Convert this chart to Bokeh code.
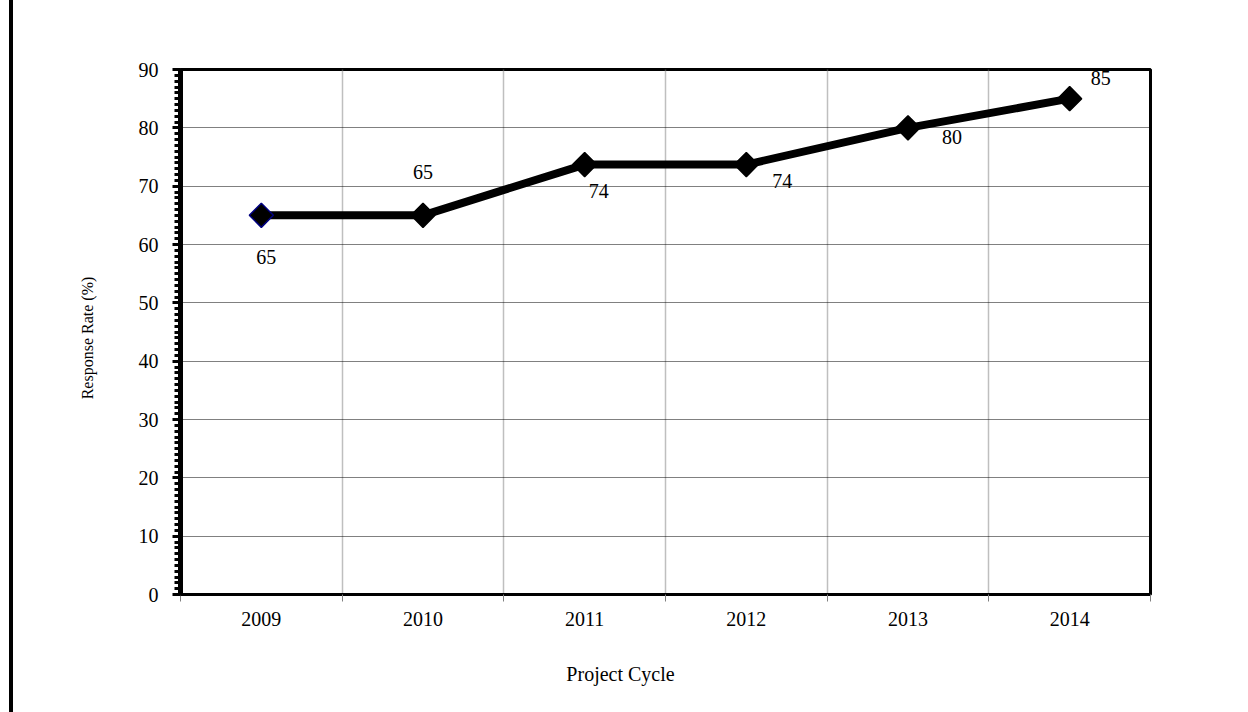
import math
from bokeh.plotting import figure
from bokeh.models import FixedTicker, ColumnDataSource
from bokeh.core.properties import value
from bokeh.embed import file_html
from bokeh.resources import INLINE

# ---- data ----
categories = ["2009", "2010", "2011", "2012", "2013", "2014"]
response_rate = [65, 65, 73.7, 73.7, 80, 85]
value_labels = ["65", "65", "74", "74", "80", "85"]
y_ticks = [0, 10, 20, 30, 40, 50, 60, 70, 80, 90]
x_title = "Project Cycle"
y_title = "Response Rate (%)"

# label placement offsets (screen px), layout only
label_dx = [5, 0, 14, 36, 44, 31]
label_dy = [42, -43, 26, 16, 9, -21]

FONT = value("Liberation Serif")
n = len(categories)
xs = [i + 0.5 for i in range(n)]

LEFT_GAP = 9      # white space before the page's left rule
RULE = 4          # width of the left rule
OFF = LEFT_GAP + RULE
W, H = 1248 - OFF, 712
p = figure(width=W, height=H, x_range=(0, n), y_range=(0, 90),
           output_backend="svg", toolbar_location=None,
           min_border_left=180 - OFF, min_border_right=W - (1150 - OFF),
           min_border_top=69, min_border_bottom=118)
p.styles = {"margin-left": f"{LEFT_GAP}px", "border-left": f"{RULE}px solid black"}
p.background_fill_color = "white"
p.border_fill_color = "white"
p.outline_line_color = "black"
p.outline_line_width = 3

# x axis
p.xaxis.ticker = FixedTicker(ticks=xs, minor_ticks=list(range(n + 1)))
p.xaxis.major_label_overrides = {xv: c for xv, c in zip(xs, categories)}
p.xaxis.major_tick_line_color = None
p.xaxis.major_tick_out = 0
p.xaxis.major_tick_in = 0
p.xaxis.minor_tick_out = 7
p.xaxis.minor_tick_in = 0
p.xaxis.minor_tick_line_color = "#808080"
p.xaxis.minor_tick_line_width = 1
p.xaxis.axis_line_color = "black"
p.xaxis.axis_line_width = 3
p.xaxis.major_label_standoff = 10
p.xaxis.major_label_text_font = "Liberation Serif"
p.xaxis.major_label_text_font_size = "20px"
p.xaxis.major_label_text_color = "black"
p.xaxis.axis_label = x_title + "\u00a0" * 18
p.xaxis.axis_label_standoff = 34
p.xaxis.axis_label_text_font = "Liberation Serif"
p.xaxis.axis_label_text_font_size = "20px"
p.xaxis.axis_label_text_font_style = "normal"
p.xaxis.axis_label_text_color = "black"

# y axis
p.yaxis.ticker = FixedTicker(ticks=y_ticks, minor_ticks=list(range(0, 91)))
p.yaxis.major_tick_out = 8
p.yaxis.major_tick_in = 0
p.yaxis.major_tick_line_width = 3
p.yaxis.major_tick_line_color = "black"
p.yaxis.minor_tick_out = 6
p.yaxis.minor_tick_in = 0
p.yaxis.minor_tick_line_width = 3
p.yaxis.minor_tick_line_color = "black"
p.yaxis.axis_line_color = "black"
p.yaxis.axis_line_width = 5
p.yaxis.major_label_standoff = 14
p.yaxis.major_label_text_font = "Liberation Serif"
p.yaxis.major_label_text_font_size = "20px"
p.yaxis.major_label_text_color = "black"
p.yaxis.axis_label = y_title + "\u00a0" * 3
p.yaxis.axis_label_standoff = 40
p.yaxis.axis_label_text_font = "Liberation Serif"
p.yaxis.axis_label_text_font_size = "16px"
p.yaxis.axis_label_text_font_style = "normal"
p.yaxis.axis_label_text_color = "black"

# grids
p.ygrid.ticker = FixedTicker(ticks=y_ticks)
p.ygrid.grid_line_color = "black"
p.ygrid.grid_line_dash = "1 1"
p.ygrid.grid_line_width = 1
p.xgrid.ticker = FixedTicker(ticks=list(range(1, n)))
p.xgrid.grid_line_color = "#808080"
p.xgrid.grid_line_dash = "1 1"
p.xgrid.grid_line_width = 1.5

src = ColumnDataSource(dict(x=xs, y=response_rate, lab=value_labels,
                            dx=label_dx, dy=label_dy,
                            edge=["#000080"] + ["black"] * (n - 1)))

p.line("x", "y", source=src, line_color="black", line_width=8)
p.scatter("x", "y", source=src, marker="square", size=17, angle=math.pi / 4,
          fill_color="black", line_color="edge", line_width=1.5)
p.text("x", "y", text="lab", source=src, x_offset="dx", y_offset="dy",
       text_align="center", text_baseline="middle", text_font=FONT,
       text_font_size="20px", text_color="black")

open("out.html", "w").write(file_html(p, INLINE))
